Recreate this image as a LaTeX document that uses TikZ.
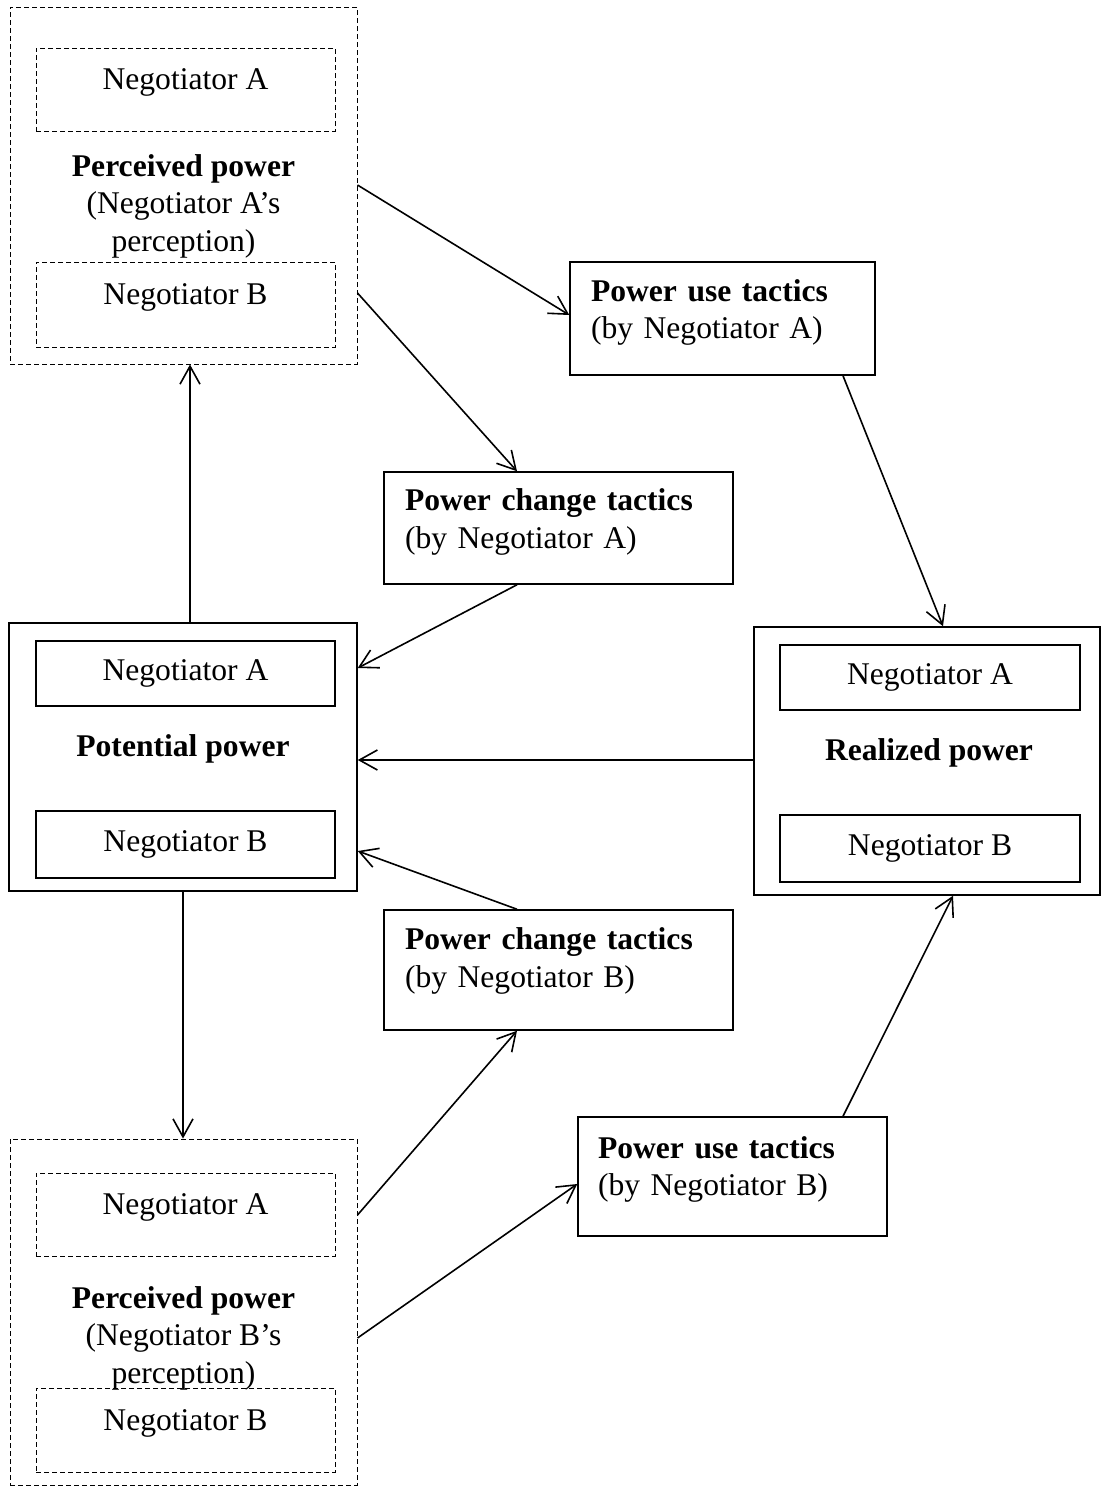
\documentclass[tikz,border=0pt]{standalone}
\usepackage{fontspec}
\setmainfont{Liberation Serif}
\usetikzlibrary{arrows.meta}

\begin{document}
\begin{tikzpicture}[x=0.5pt,y=-0.5pt,
  font=\fontsize{15.8}{18.75}\selectfont,
  outer/.style={draw,line width=.75pt,inner sep=0pt},
  dashouter/.style={outer,line width=.5pt,dash pattern=on 2.5pt off 1.5pt},
  inbox/.style={draw,line width=.6pt,inner sep=0pt,minimum width=149.5pt},
  dashbox/.style={inbox,line width=.5pt,dash pattern=on 2.5pt off 1.5pt,text depth=10pt},
  tactic/.style={draw,line width=.75pt,align=left,inner xsep=10.5pt,inner ysep=0pt,text depth=28pt},
  arr/.style={-{Straight Barb[length=9pt,width=10pt]},line width=.8pt}]
  \useasboundingbox (0,0) rectangle (1101,1490);
  % perceived power, A's view
  \node[dashouter,minimum width=173.5pt,minimum height=178.5pt] (pA) at (183.5,185.5) {};
  \node[dashbox,minimum height=41.5pt] (pAa) at (185.5,89.5) {Negotiator A};
  \node[dashbox,minimum height=42.5pt] (pAb) at (185.5,304.5) {Negotiator B};
  \node[align=center] (pAlab) at (183.5,206) {\textbf{Perceived power}\\(Negotiator A’s\\perception)};
  % potential power
  \node[outer,minimum width=174pt,minimum height=134pt] (pot) at (183,757) {};
  \node[inbox,minimum height=32.5pt] (pota) at (185.5,673.5) {Negotiator A};
  \node[inbox,minimum height=33.5pt] (potb) at (185.5,844.5) {Negotiator B};
  \node (potlab) at (183,749) {\textbf{Potential power}};
  % realized power
  \node[outer,minimum width=173pt,minimum height=134pt] (real) at (927,761) {};
  \node[inbox,minimum width=150pt,minimum height=32.5pt] (reala) at (930,677.5) {Negotiator A};
  \node[inbox,minimum width=150pt,minimum height=33.5pt] (realb) at (930,848.5) {Negotiator B};
  \node (reallab) at (929,753) {\textbf{Realized power}};
  % perceived power, B's view
  \node[dashouter,minimum width=173.5pt,minimum height=173pt] (pB) at (183.5,1312) {};
  \node[dashbox,minimum height=41.5pt] (pBa) at (185.5,1214.5) {Negotiator A};
  \node[dashbox,minimum height=42pt] (pBb) at (185.5,1430) {Negotiator B};
  \node[align=center] (pBlab) at (183.5,1338) {\textbf{Perceived power}\\(Negotiator B’s\\perception)};
  % tactics
  \node[tactic,text width=131.5pt,minimum height=56.5pt] (useA) at (722.5,318.5) {\textbf{Power use tactics}\\(by Negotiator A)};
  \node[tactic,text width=153.5pt,minimum height=56pt] (chA) at (558.5,528) {\textbf{Power change tactics}\\(by Negotiator A)};
  \node[tactic,text width=153.5pt,minimum height=60pt,text depth=31pt] (chB) at (558.5,970) {\textbf{Power change tactics}\\(by Negotiator B)};
  \node[tactic,text width=134.5pt,minimum height=59.5pt,inner xsep=10pt,text depth=29pt] (useB) at (732.5,1176.5) {\textbf{Power use tactics}\\(by Negotiator B)};

  \draw[arr] (pA.east |- 0,185) -- (useA.west |- 0,315);
  \draw[arr] (pA.east |- 0,293) -- (chA.north -| 517,0);
  \draw[arr] (pot.north -| 190,0) -- (pA.south -| 190,0);
  \draw[arr] (chA.south -| 517,0) -- (pot.east |- 0,668);
  \draw[arr] (useA.south -| 843,0) -- (real.north -| 943,0);
  \draw[arr] (real.west |- 0,760) -- (pot.east |- 0,760);
  \draw[arr] (chB.north -| 517,0) -- (pot.east |- 0,851);
  \draw[arr] (pot.south -| 183,0) -- (pB.north -| 183,0);
  \draw[arr] (pB.east |- 0,1215) -- (chB.south -| 517,0);
  \draw[arr] (pB.east |- 0,1338) -- (useB.west |- 0,1184);
  \draw[arr] (useB.north -| 843,0) -- (real.south -| 953,0);
\end{tikzpicture}
\end{document}
